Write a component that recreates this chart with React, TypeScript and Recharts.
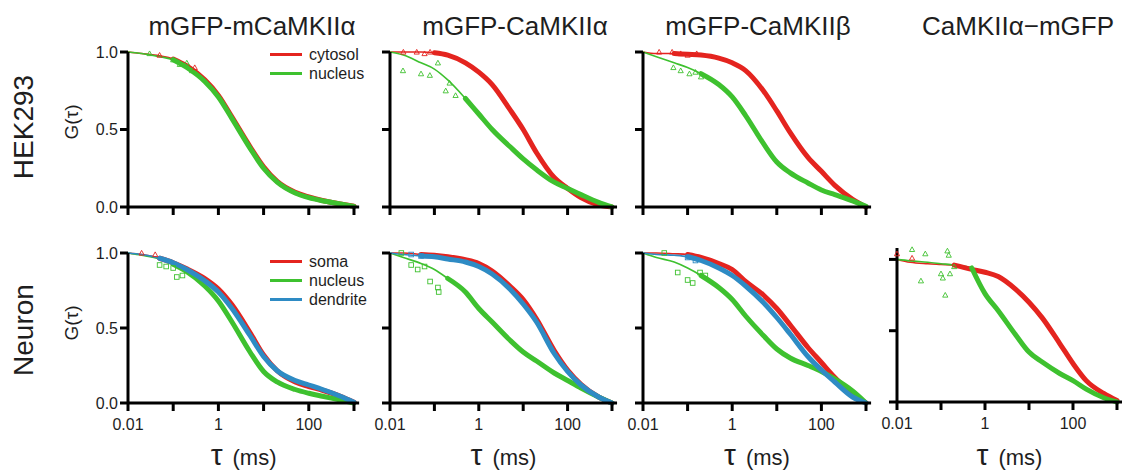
import React from 'react';
import { ComposedChart, Line, Scatter, XAxis, YAxis } from 'recharts';

const FONT = '"Liberation Sans", Arial, Helvetica, sans-serif';
const RED = '#e4241f';
const GREEN = '#3ec12f';
const BLUE = '#2e8bc4';

// lag times (ms) where each curve is sampled
const tau = [0.01, 0.02, 0.05, 0.1, 0.2, 0.5, 1, 2, 5, 10, 20, 50, 100, 200, 500, 1000];
const xTicks = [0.01, 0.1, 1, 10, 100, 1000];
const xTickLabels = ['0.01', '', '1', '', '100', ''];
const yTicks = [0, 0.5, 1];
const X_MIN = 0.01;
const X_MAX = 1300;

// HEK293 - mGFP-mCaMKIIα
const hekMA_cyto = [1.0, 0.99, 0.975, 0.955, 0.91, 0.82, 0.72, 0.58, 0.39, 0.26, 0.165, 0.095, 0.065, 0.042, 0.02, 0.005];
const hekMA_nuc = [1.0, 0.99, 0.97, 0.95, 0.9, 0.81, 0.71, 0.57, 0.38, 0.25, 0.16, 0.09, 0.06, 0.04, 0.02, 0.004];
const hekMA_marksG = [[0.03, 0.99], [0.1, 0.95], [0.14, 0.92], [0.2, 0.93], [0.26, 0.88]];
const hekMA_marksR = [[0.05, 0.98], [0.3, 0.9]];

// HEK293 - mGFP-CaMKIIα
const hekA_cyto = [1.0, 1.0, 1.0, 0.995, 0.98, 0.93, 0.87, 0.79, 0.63, 0.5, 0.35, 0.19, 0.12, 0.06, 0.012, 0.0];
const hekA_nuc = [1.0, 0.98, 0.93, 0.89, 0.82, 0.7, 0.6, 0.5, 0.39, 0.31, 0.24, 0.16, 0.12, 0.08, 0.03, 0.0];
const hekA_marksG = [[0.0196, 0.88], [0.05, 0.86], [0.079, 0.85], [0.12, 0.93], [0.18, 0.75], [0.22, 0.8], [0.3, 0.72]];
const hekA_marksR = [[0.02, 1.0], [0.04, 1.0], [0.06, 0.99], [0.08, 1.0]];

// HEK293 - mGFP-CaMKIIβ
const hekB_cyto = [1.0, 0.99, 0.99, 0.985, 0.98, 0.96, 0.93, 0.88, 0.75, 0.62, 0.48, 0.32, 0.23, 0.14, 0.05, 0.0];
const hekB_nuc = [1.0, 0.97, 0.93, 0.9, 0.86, 0.79, 0.71, 0.59, 0.41, 0.29, 0.22, 0.155, 0.11, 0.08, 0.04, 0.005];
const hekB_marksG = [[0.048, 0.9], [0.07, 0.88], [0.11, 0.86], [0.15, 0.87], [0.2, 0.84]];
const hekB_marksR = [[0.023, 1.0], [0.045, 1.0], [0.07, 0.99], [0.1, 0.98], [0.16, 0.99]];

// Neuron - mGFP-mCaMKIIα
const neuMA_soma = [1.0, 0.99, 0.965, 0.935, 0.895, 0.83, 0.76, 0.655, 0.47, 0.32, 0.215, 0.14, 0.11, 0.085, 0.045, 0.005];
const neuMA_nuc = [1.0, 0.985, 0.96, 0.925, 0.875, 0.78, 0.68, 0.54, 0.34, 0.21, 0.14, 0.09, 0.065, 0.045, 0.02, 0.0];
const neuMA_dend = [1.0, 0.99, 0.965, 0.935, 0.89, 0.815, 0.74, 0.63, 0.45, 0.31, 0.215, 0.15, 0.12, 0.09, 0.045, 0.005];
const neuMA_marksG = [[0.05, 0.92], [0.07, 0.91], [0.1, 0.9], [0.12, 0.84], [0.16, 0.85]];
const neuMA_marksR = [[0.02, 1.0], [0.04, 0.99]];

// Neuron - mGFP-CaMKIIα
const neuA_soma = [1.0, 1.0, 0.99, 0.985, 0.975, 0.955, 0.93, 0.88, 0.78, 0.69, 0.56, 0.35, 0.22, 0.125, 0.04, 0.0];
const neuA_nuc = [1.0, 0.97, 0.93, 0.89, 0.83, 0.74, 0.63, 0.54, 0.42, 0.34, 0.28, 0.2, 0.15, 0.1, 0.04, 0.0];
const neuA_dend = [1.0, 0.99, 0.98, 0.975, 0.96, 0.94, 0.91, 0.86, 0.76, 0.66, 0.54, 0.33, 0.21, 0.12, 0.04, 0.0];
const neuA_marksG = [[0.018, 1.0], [0.03, 0.92], [0.042, 0.89], [0.06, 0.91], [0.08, 0.81], [0.12, 0.77], [0.125, 0.74]];
const neuA_marksB = [[0.03, 0.99], [0.05, 0.98]];

// Neuron - mGFP-CaMKIIβ
const neuB_soma = [1.0, 1.0, 0.995, 0.99, 0.97, 0.93, 0.89, 0.81, 0.72, 0.63, 0.52, 0.37, 0.27, 0.17, 0.06, 0.0];
const neuB_nuc = [1.0, 0.97, 0.94, 0.9, 0.85, 0.77, 0.69, 0.58, 0.45, 0.36, 0.3, 0.25, 0.21, 0.16, 0.08, 0.0];
const neuB_dend = [1.0, 0.99, 0.985, 0.975, 0.95, 0.9, 0.85, 0.78, 0.67, 0.57, 0.46, 0.31, 0.22, 0.14, 0.04, 0.0];
const neuB_marksG = [[0.03, 1.0], [0.06, 0.87], [0.1, 0.82], [0.13, 0.8], [0.19, 0.87], [0.25, 0.85]];
const neuB_marksB = [[0.1, 0.97], [0.15, 0.95]];

// Neuron - CaMKIIα-mGFP
const neuC_soma = [1.0, 0.98, 0.97, 0.965, 0.96, 0.93, 0.91, 0.88, 0.79, 0.7, 0.59, 0.41, 0.27, 0.15, 0.06, 0.01];
const neuC_nuc = [1.0, 0.99, 0.98, 0.97, 0.96, 0.94, 0.76, 0.64, 0.47, 0.35, 0.28, 0.2, 0.15, 0.09, 0.03, 0.0];
const neuC_marksG = [[0.022, 1.07], [0.044, 1.04], [0.035, 0.85], [0.14, 1.06], [0.15, 1.03], [0.1, 0.9], [0.11, 0.87], [0.125, 0.75], [0.16, 0.9], [0.2, 0.95]];
const neuC_marksR = [[0.01, 1.04], [0.022, 1.01]];

const COLS = [
  { x0: 128, ppd: 45.2, mid: 252 },
  { x0: 390, ppd: 44.4, mid: 515 },
  { x0: 643, ppd: 44.6, mid: 758 },
  { x0: 897, ppd: 44.0, mid: 1018 },
];
const titles = ['mGFP-mCaMKIIα', 'mGFP-CaMKIIα', 'mGFP-CaMKIIβ', 'CaMKIIα\u2212mGFP'];

const Y_W = 40;
const M_TOP = 14;
const M_RIGHT = 6;
const X_H = 44;

type Series = { color: string; values: number[]; bandFrom: number };
type Marks = { color: string; pts: number[][]; shape: 'tri' | 'sq' };
type PanelSpec = {
  col: number;
  top: number;
  height: number;
  yMax: number;
  xLabels: boolean;
  series: Series[];
  marks: Marks[];
};

const panels: PanelSpec[] = [
  {
    col: 0, top: 52, height: 155, yMax: 1, xLabels: false,
    series: [
      { color: RED, values: hekMA_cyto, bandFrom: 0.1 },
      { color: GREEN, values: hekMA_nuc, bandFrom: 0.1 },
    ],
    marks: [
      { color: RED, pts: hekMA_marksR, shape: 'tri' },
      { color: GREEN, pts: hekMA_marksG, shape: 'tri' },
    ],
  },
  {
    col: 1, top: 52, height: 155, yMax: 1, xLabels: false,
    series: [
      { color: RED, values: hekA_cyto, bandFrom: 0.1 },
      { color: GREEN, values: hekA_nuc, bandFrom: 0.5 },
    ],
    marks: [
      { color: RED, pts: hekA_marksR, shape: 'tri' },
      { color: GREEN, pts: hekA_marksG, shape: 'tri' },
    ],
  },
  {
    col: 2, top: 52, height: 155, yMax: 1, xLabels: false,
    series: [
      { color: RED, values: hekB_cyto, bandFrom: 0.05 },
      { color: GREEN, values: hekB_nuc, bandFrom: 0.2 },
    ],
    marks: [
      { color: RED, pts: hekB_marksR, shape: 'tri' },
      { color: GREEN, pts: hekB_marksG, shape: 'tri' },
    ],
  },
  {
    col: 0, top: 253, height: 150, yMax: 1, xLabels: true,
    series: [
      { color: RED, values: neuMA_soma, bandFrom: 0.05 },
      { color: GREEN, values: neuMA_nuc, bandFrom: 0.1 },
      { color: BLUE, values: neuMA_dend, bandFrom: 0.05 },
    ],
    marks: [
      { color: RED, pts: neuMA_marksR, shape: 'tri' },
      { color: GREEN, pts: neuMA_marksG, shape: 'sq' },
    ],
  },
  {
    col: 1, top: 253, height: 150, yMax: 1, xLabels: true,
    series: [
      { color: RED, values: neuA_soma, bandFrom: 0.05 },
      { color: GREEN, values: neuA_nuc, bandFrom: 0.2 },
      { color: BLUE, values: neuA_dend, bandFrom: 0.05 },
    ],
    marks: [
      { color: BLUE, pts: neuA_marksB, shape: 'sq' },
      { color: GREEN, pts: neuA_marksG, shape: 'sq' },
    ],
  },
  {
    col: 2, top: 253, height: 150, yMax: 1, xLabels: true,
    series: [
      { color: RED, values: neuB_soma, bandFrom: 0.1 },
      { color: GREEN, values: neuB_nuc, bandFrom: 0.2 },
      { color: BLUE, values: neuB_dend, bandFrom: 0.1 },
    ],
    marks: [
      { color: BLUE, pts: neuB_marksB, shape: 'sq' },
      { color: GREEN, pts: neuB_marksG, shape: 'sq' },
    ],
  },
  {
    col: 3, top: 248, height: 154, yMax: 1.08, xLabels: true,
    series: [
      { color: RED, values: neuC_soma, bandFrom: 0.2 },
      { color: GREEN, values: neuC_nuc, bandFrom: 0.5 },
    ],
    marks: [
      { color: RED, pts: neuC_marksR, shape: 'tri' },
      { color: GREEN, pts: neuC_marksG, shape: 'tri' },
    ],
  },
];

const legendTop = [
  { label: 'cytosol', color: RED },
  { label: 'nucleus', color: GREEN },
];
const legendBottom = [
  { label: 'soma', color: RED },
  { label: 'nucleus', color: GREEN },
  { label: 'dendrite', color: BLUE },
];

function Tri(props: any) {
  const { cx, cy, color } = props;
  if (cx == null || cy == null) return null;
  const s = 2.6;
  return (
    <path
      d={`M${cx},${cy - s} L${cx + s},${cy + s * 0.8} L${cx - s},${cy + s * 0.8} Z`}
      fill="none"
      stroke={color}
      strokeWidth={0.9}
    />
  );
}

function Sq(props: any) {
  const { cx, cy, color } = props;
  if (cx == null || cy == null) return null;
  return <rect x={cx - 2.3} y={cy - 2.3} width={4.6} height={4.6} fill="none" stroke={color} strokeWidth={0.9} />;
}

const axisStroke = { stroke: '#000', strokeWidth: 3 };
const tickStyle = { fill: '#1e1e1e', fontSize: 16, fontFamily: FONT };

function Panel({ p }: { p: PanelSpec }) {
  const col = COLS[p.col];
  const plotW = col.ppd * Math.log10(X_MAX / X_MIN);
  const rows = tau.map((t, i) => {
    const r: Record<string, number | null> = { tau: t };
    p.series.forEach((s, k) => {
      r['s' + k] = s.values[i];
      r['b' + k] = t >= s.bandFrom ? s.values[i] : null;
    });
    return r;
  });
  const showY = p.col === 0;

  return (
    <div style={{ position: 'absolute', left: col.x0 - Y_W, top: p.top - M_TOP }}>
      <ComposedChart
        width={Y_W + plotW + M_RIGHT}
        height={M_TOP + p.height + X_H}
        data={rows}
        margin={{ top: M_TOP, right: M_RIGHT, bottom: 0, left: 0 }}
      >
        <XAxis
          dataKey="tau"
          type="number"
          scale="log"
          domain={[X_MIN, X_MAX]}
          ticks={xTicks}
          interval={0}
          height={X_H}
          tickSize={8}
          tickMargin={8}
          axisLine={axisStroke}
          tickLine={axisStroke}
          tick={tickStyle}
          tickFormatter={(v: number) => (p.xLabels ? xTickLabels[xTicks.indexOf(v)] ?? '' : '')}
        />
        <YAxis
          type="number"
          domain={[0, p.yMax]}
          ticks={yTicks}
          interval={0}
          width={Y_W}
          tickSize={8}
          tickMargin={2}
          axisLine={axisStroke}
          tickLine={axisStroke}
          tick={tickStyle}
          tickFormatter={(v: number) => (showY ? v.toFixed(1) : '')}
        />
        {p.marks.map((m, k) => (
          <Scatter
            key={'m' + k}
            data={m.pts.map(([t, g]) => ({ tau: t, g }))}
            dataKey="g"
            isAnimationActive={false}
            shape={(sp: any) => (m.shape === 'tri' ? <Tri {...sp} color={m.color} /> : <Sq {...sp} color={m.color} />)}
          />
        ))}
        {p.series.map((s, k) => (
          <Line
            key={'s' + k}
            dataKey={'s' + k}
            type="monotone"
            stroke={s.color}
            strokeWidth={1.6}
            dot={false}
            isAnimationActive={false}
          />
        ))}
        {p.series.map((s, k) => (
          <Line
            key={'b' + k}
            dataKey={'b' + k}
            type="monotone"
            stroke={s.color}
            strokeWidth={5}
            strokeLinecap="round"
            dot={false}
            isAnimationActive={false}
          />
        ))}
      </ComposedChart>
    </div>
  );
}

function LegendBlock({ items, left, top }: { items: { label: string; color: string }[]; left: number; top: number }) {
  return (
    <div style={{ position: 'absolute', left, top, fontFamily: FONT, fontSize: 16, color: '#1e1e1e' }}>
      {items.map((it) => (
        <div key={it.label} style={{ display: 'flex', alignItems: 'center', height: 19 }}>
          <span style={{ display: 'inline-block', width: 32, height: 3, background: it.color, marginRight: 7 }} />
          <span>{it.label}</span>
        </div>
      ))}
    </div>
  );
}

function RotLabel({ text, cx, cy, size }: { text: string; cx: number; cy: number; size: number }) {
  return (
    <div
      style={{
        position: 'absolute',
        left: cx,
        top: cy,
        transform: 'translate(-50%, -50%) rotate(-90deg)',
        whiteSpace: 'nowrap',
        fontFamily: FONT,
        fontSize: size,
        lineHeight: 1.3,
        color: '#1e1e1e',
      }}
    >
      {text}
    </div>
  );
}

export default function App() {
  return (
    <div
      style={{
        position: 'absolute',
        left: 0,
        top: 0,
        width: 1126,
        height: 470,
        background: '#fff',
        overflow: 'hidden',
        fontFamily: FONT,
      }}
    >
      {titles.map((t, i) => (
        <div
          key={t}
          style={{
            position: 'absolute',
            left: COLS[i].mid,
            top: 10,
            transform: 'translateX(-50%)',
            whiteSpace: 'nowrap',
            fontSize: 26,
            lineHeight: '32px',
            color: '#1e1e1e',
          }}
        >
          {t}
        </div>
      ))}

      <RotLabel text="HEK293" cx={24} cy={127} size={28} />
      <RotLabel text="Neuron" cx={24} cy={330} size={28} />
      <RotLabel text="G(τ)" cx={72} cy={122} size={19} />
      <RotLabel text="G(τ)" cx={72} cy={323} size={19} />

      {panels.map((p, i) => (
        <Panel key={i} p={p} />
      ))}

      <LegendBlock items={legendTop} left={270} top={45} />
      <LegendBlock items={legendBottom} left={270} top={252} />

      {COLS.map((c, i) => {
        const mid = c.x0 + (c.ppd * Math.log10(X_MAX / X_MIN)) / 2;
        return (
          <div
            key={'xl' + i}
            style={{
              position: 'absolute',
              left: mid,
              top: 437,
              transform: 'translateX(-50%)',
              whiteSpace: 'nowrap',
              fontSize: 22,
              lineHeight: '36px',
              color: '#1e1e1e',
            }}
          >
            <span style={{ fontSize: 30, marginRight: 10 }}>τ</span>
            <span>(ms)</span>
          </div>
        );
      })}
    </div>
  );
}
